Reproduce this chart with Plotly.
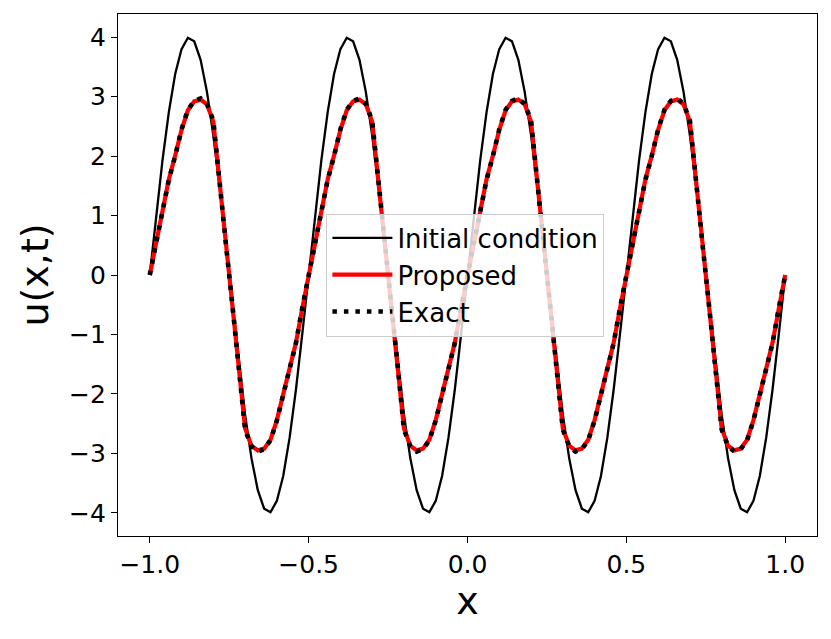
import plotly.graph_objects as go

# sample points along x
x_vals = [
    -1.00, -0.98, -0.96, -0.94, -0.92, -0.90, -0.88, -0.86, -0.84, -0.82,
    -0.80, -0.78, -0.76, -0.74, -0.72, -0.70, -0.68, -0.66, -0.64, -0.62,
    -0.60, -0.58, -0.56, -0.54, -0.52, -0.50, -0.48, -0.46, -0.44, -0.42,
    -0.40, -0.38, -0.36, -0.34, -0.32, -0.30, -0.28, -0.26, -0.24, -0.22,
    -0.20, -0.18, -0.16, -0.14, -0.12, -0.10, -0.08, -0.06, -0.04, -0.02,
    0.00, 0.02, 0.04, 0.06, 0.08, 0.10, 0.12, 0.14, 0.16, 0.18,
    0.20, 0.22, 0.24, 0.26, 0.28, 0.30, 0.32, 0.34, 0.36, 0.38,
    0.40, 0.42, 0.44, 0.46, 0.48, 0.50, 0.52, 0.54, 0.56, 0.58,
    0.60, 0.62, 0.64, 0.66, 0.68, 0.70, 0.72, 0.74, 0.76, 0.78,
    0.80, 0.82, 0.84, 0.86, 0.88, 0.90, 0.92, 0.94, 0.96, 0.98,
    1.00,
]

# initial condition
u_initial = [
    0.00, 0.99, 1.93, 2.74, 3.38, 3.80, 3.99, 3.93, 3.62, 3.08,
    2.35, 1.47, 0.50, -0.50, -1.47, -2.35, -3.08, -3.62, -3.93, -3.99,
    -3.80, -3.38, -2.74, -1.93, -0.99,
    0.00, 0.99, 1.93, 2.74, 3.38, 3.80, 3.99, 3.93, 3.62, 3.08,
    2.35, 1.47, 0.50, -0.50, -1.47, -2.35, -3.08, -3.62, -3.93, -3.99,
    -3.80, -3.38, -2.74, -1.93, -0.99,
    0.00, 0.99, 1.93, 2.74, 3.38, 3.80, 3.99, 3.93, 3.62, 3.08,
    2.35, 1.47, 0.50, -0.50, -1.47, -2.35, -3.08, -3.62, -3.93, -3.99,
    -3.80, -3.38, -2.74, -1.93, -0.99,
    0.00, 0.99, 1.93, 2.74, 3.38, 3.80, 3.99, 3.93, 3.62, 3.08,
    2.35, 1.47, 0.50, -0.50, -1.47, -2.35, -3.08, -3.62, -3.93, -3.99,
    -3.80, -3.38, -2.74, -1.93, -0.99,
    0.00,
]

# proposed solution
u_proposed = [
    0.00, 0.56, 1.14, 1.61, 2.01, 2.44, 2.77, 2.92, 2.95, 2.87,
    2.58, 1.52, 0.51, -0.51, -1.52, -2.58, -2.87, -2.95, -2.92, -2.77,
    -2.44, -2.01, -1.61, -1.14, -0.56,
    0.00, 0.56, 1.14, 1.61, 2.01, 2.44, 2.77, 2.92, 2.95, 2.87,
    2.58, 1.52, 0.51, -0.51, -1.52, -2.58, -2.87, -2.95, -2.92, -2.77,
    -2.44, -2.01, -1.61, -1.14, -0.56,
    0.00, 0.56, 1.14, 1.61, 2.01, 2.44, 2.77, 2.92, 2.95, 2.87,
    2.58, 1.52, 0.51, -0.51, -1.52, -2.58, -2.87, -2.95, -2.92, -2.77,
    -2.44, -2.01, -1.61, -1.14, -0.56,
    0.00, 0.56, 1.14, 1.61, 2.01, 2.44, 2.77, 2.92, 2.95, 2.87,
    2.58, 1.52, 0.51, -0.51, -1.52, -2.58, -2.87, -2.95, -2.92, -2.77,
    -2.44, -2.01, -1.61, -1.14, -0.56,
    0.00,
]

# exact solution
u_exact = [
    0.00, 0.55, 1.15, 1.60, 2.00, 2.45, 2.78, 2.93, 2.97, 2.88,
    2.60, 1.50, 0.50, -0.50, -1.50, -2.60, -2.88, -2.97, -2.93, -2.78,
    -2.45, -2.00, -1.60, -1.15, -0.55,
    0.00, 0.55, 1.15, 1.60, 2.00, 2.45, 2.78, 2.93, 2.97, 2.88,
    2.60, 1.50, 0.50, -0.50, -1.50, -2.60, -2.88, -2.97, -2.93, -2.78,
    -2.45, -2.00, -1.60, -1.15, -0.55,
    0.00, 0.55, 1.15, 1.60, 2.00, 2.45, 2.78, 2.93, 2.97, 2.88,
    2.60, 1.50, 0.50, -0.50, -1.50, -2.60, -2.88, -2.97, -2.93, -2.78,
    -2.45, -2.00, -1.60, -1.15, -0.55,
    0.00, 0.55, 1.15, 1.60, 2.00, 2.45, 2.78, 2.93, 2.97, 2.88,
    2.60, 1.50, 0.50, -0.50, -1.50, -2.60, -2.88, -2.97, -2.93, -2.78,
    -2.45, -2.00, -1.60, -1.15, -0.55,
    0.00,
]

x_ticks = [-1.0, -0.5, 0.0, 0.5, 1.0]
y_ticks = [-4, -3, -2, -1, 0, 1, 2, 3, 4]

fig = go.Figure()
fig.add_trace(go.Scatter(x=x_vals, y=u_initial, mode="lines", name="Initial condition",
                         line=dict(color="black", width=2.3)))
fig.add_trace(go.Scatter(x=x_vals, y=u_proposed, mode="lines", name="Proposed",
                         line=dict(color="red", width=4.2)))
fig.add_trace(go.Scatter(x=x_vals, y=u_exact, mode="lines", name="Exact",
                         line=dict(color="black", width=4.6, dash="4.5px,7px")))

axis_style = dict(showline=True, linecolor="black", linewidth=1.3, mirror=True,
                  ticks="outside", ticklen=6, tickwidth=1.3, tickcolor="black",
                  showgrid=False, zeroline=False,
                  tickfont=dict(size=25, color="black"))

# page body adds an 8px offset, so margins are shifted to compensate
fig.update_layout(
    width=831, height=639,
    margin=dict(l=110, r=22, t=6, b=111),
    paper_bgcolor="white", plot_bgcolor="white",
    font=dict(family="DejaVu Sans", color="black"),
    xaxis=dict(range=[-1.1, 1.1], tickvals=x_ticks, tickformat=".1f",
               title=dict(text="x", font=dict(size=38), standoff=8), **axis_style),
    yaxis=dict(range=[-4.39, 4.39], tickvals=y_ticks,
               title=dict(text="u(x,t)", font=dict(size=38), standoff=8), **axis_style),
    legend=dict(x=0.497, y=0.5, xanchor="center", yanchor="middle",
                bgcolor="rgba(255,255,255,0.8)", bordercolor="#cccccc", borderwidth=1,
                font=dict(size=26), itemwidth=60),
    showlegend=True,
)

fig.write_html("out.html")
